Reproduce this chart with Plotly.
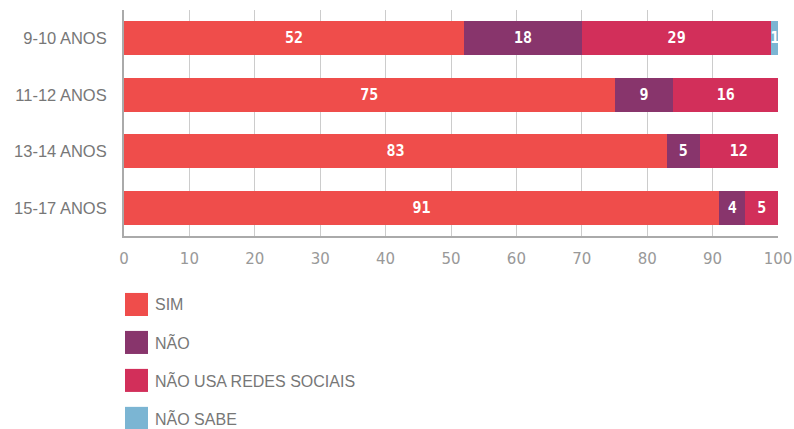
import plotly.graph_objects as go

categories = ["9-10 ANOS", "11-12 ANOS", "13-14 ANOS", "15-17 ANOS"]
series_names = ["SIM", "NÃO", "NÃO USA REDES SOCIAIS", "NÃO SABE"]
sim = [52, 75, 83, 91]
nao = [18, 9, 5, 4]
nao_usa = [29, 16, 12, 5]
nao_sabe = [1, 0, 0, 0]
colors = ["#EF4D4B", "#88356C", "#D22F5A", "#7BB5D3"]
x_ticks = [0, 10, 20, 30, 40, 50, 60, 70, 80, 90, 100]

fig = go.Figure()
for name, vals, col in zip(series_names, [sim, nao, nao_usa, nao_sabe], colors):
    fig.add_trace(go.Bar(
        y=categories, x=vals, name=name, orientation="h",
        marker=dict(color=col, line=dict(width=0)),
        width=0.6,
        text=[str(v) if v > 0 else "" for v in vals],
        textposition="inside", insidetextanchor="middle",
        insidetextfont=dict(color="white", size=15, family="DejaVu Sans Mono", weight="bold"),
        constraintext="none", cliponaxis=False,
        showlegend=False, hoverinfo="skip",
    ))

# custom legend (paper coordinates)
for i, (name, col) in enumerate(zip(series_names, colors)):
    y1 = -0.252 - i * 0.168
    fig.add_shape(type="rect", xref="paper", yref="paper",
                  x0=0.0015, x1=0.0367, y0=y1 - 0.102, y1=y1,
                  fillcolor=col, line=dict(width=0))
    fig.add_annotation(xref="paper", yref="paper", x=0.045, y=y1 - 0.051,
                       text=name, showarrow=False, xanchor="left", yanchor="middle",
                       font=dict(size=16, color="#777777", family="Liberation Sans"))

fig.update_layout(
    barmode="stack",
    width=794, height=429,
    margin=dict(l=124, r=16, t=10, b=193),
    plot_bgcolor="white", paper_bgcolor="white",
    uniformtext=dict(minsize=15, mode="show"),
    xaxis=dict(range=[0, 100], tickvals=x_ticks, showgrid=True, gridcolor="#CCCCCC",
               gridwidth=1, zeroline=False, showline=True, linecolor="#AAAAAA", linewidth=2,
               tickfont=dict(size=15, color="#999999", family="DejaVu Sans"),
               ticks="", ticklabelstandoff=8, automargin=False),
    yaxis=dict(categoryorder="array", categoryarray=categories[::-1],
               range=[-0.5, 3.5],
               showline=True, linecolor="#AAAAAA", linewidth=2, ticks="",
               tickfont=dict(size=16.5, color="#777777", family="Liberation Sans"),
               ticklabelstandoff=12, showgrid=False, zeroline=False, automargin=False),
    font=dict(family="Liberation Sans"),
)

fig.write_html("out.html", config={"displayModeBar": False},
               post_script="document.body.style.margin='0';document.body.style.overflow='hidden';")
